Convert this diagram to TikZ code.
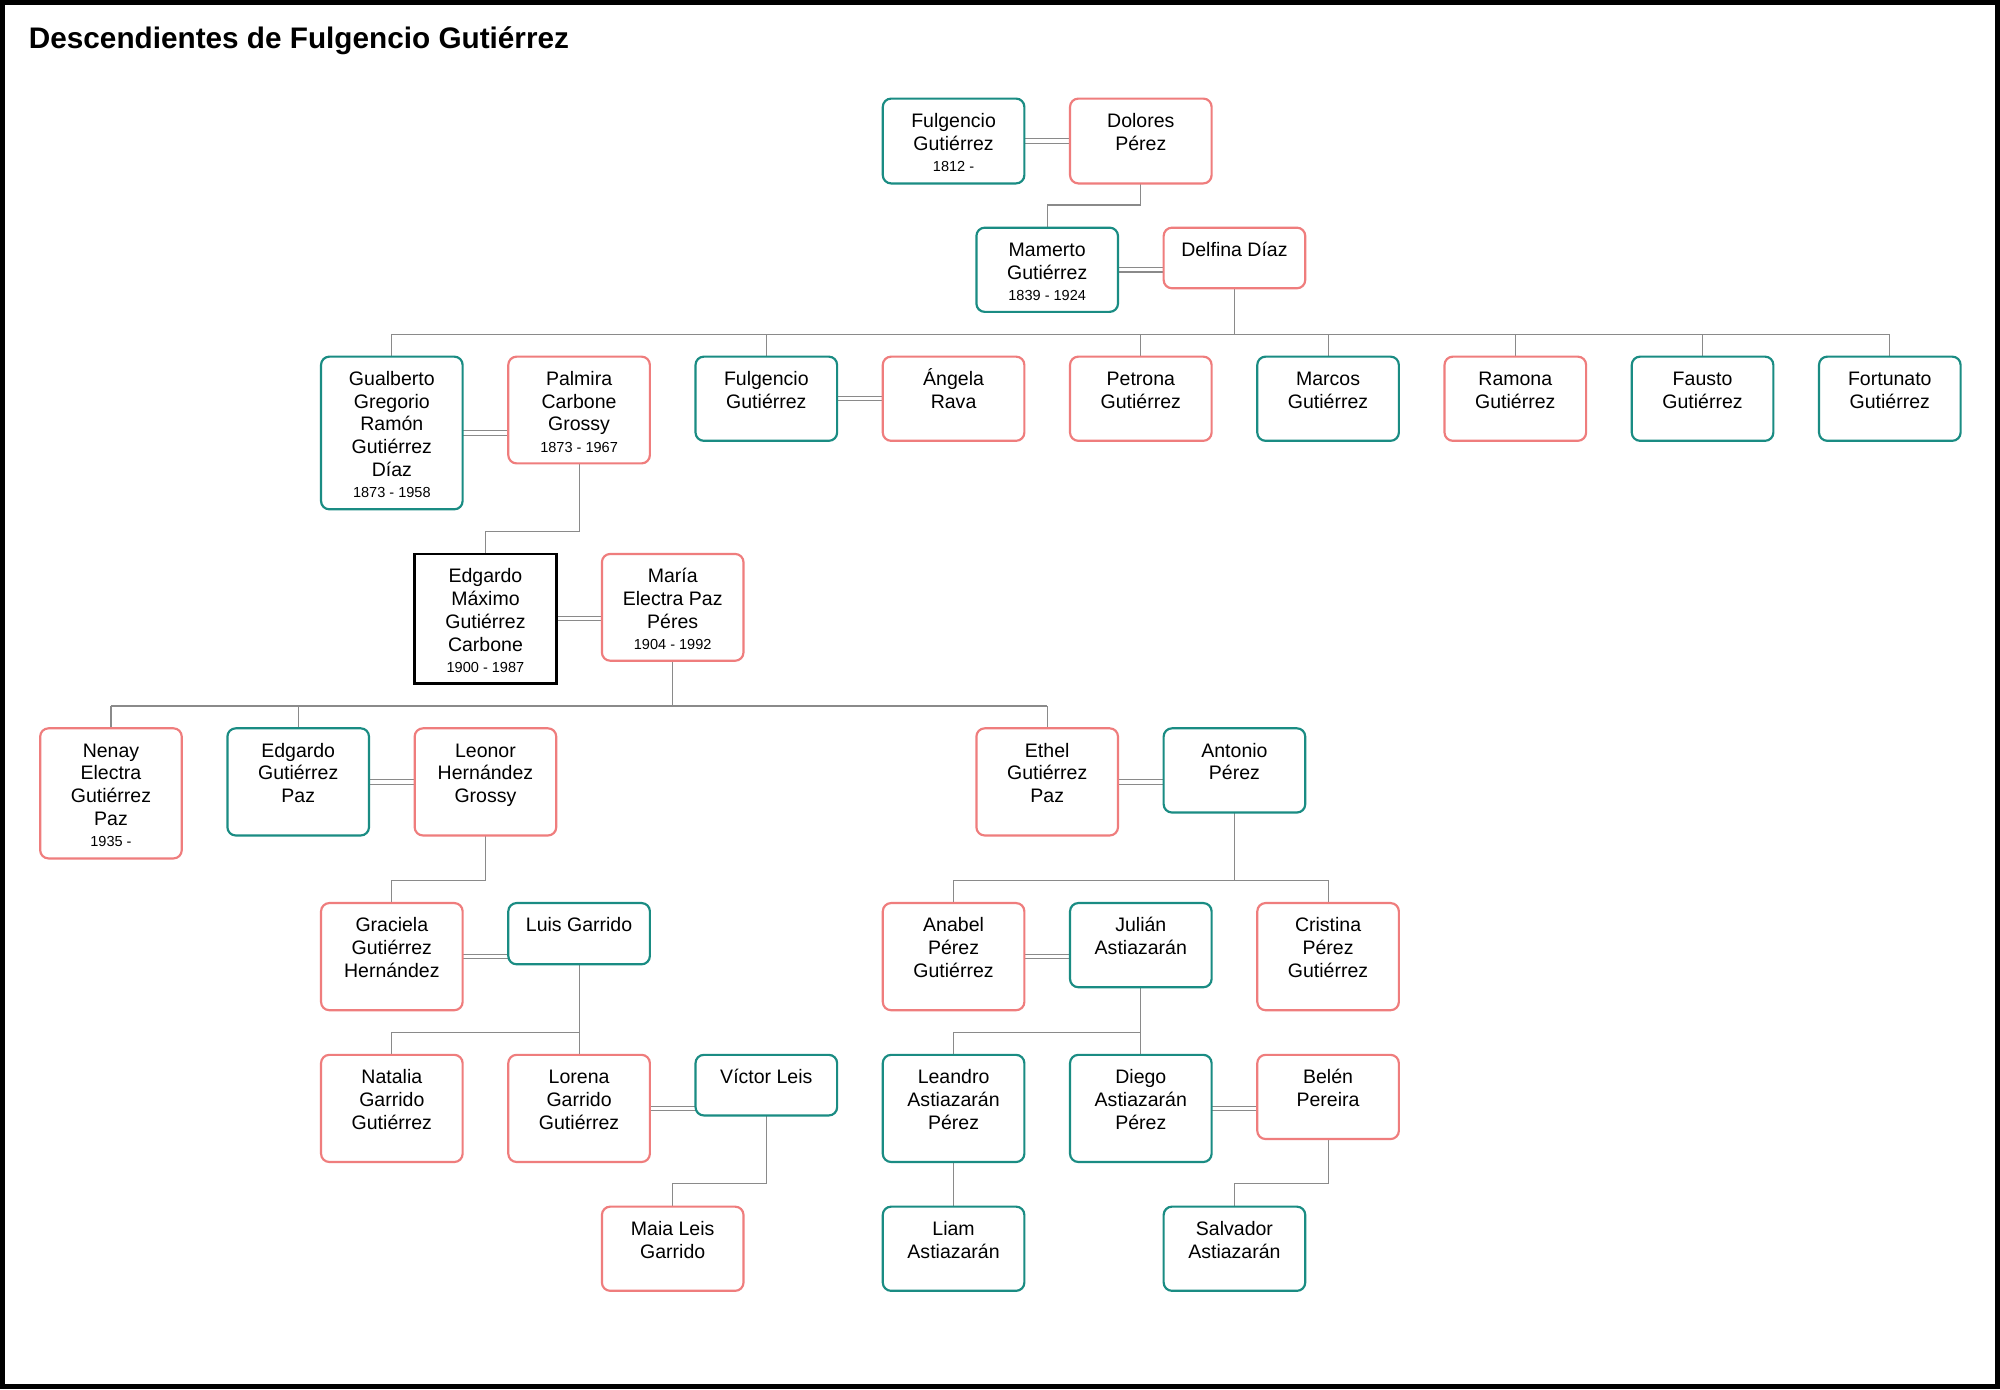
\documentclass[tikz,border=0pt]{standalone}
\usepackage{fontspec}
\setmainfont{Liberation Sans}
\usetikzlibrary{backgrounds}
\definecolor{mteal}{HTML}{1A8C83}
\definecolor{fsalmon}{HTML}{EF7D7D}
\definecolor{conngray}{HTML}{8A8A8A}
\newcommand\dt[1]{{\fontsize{11.4}{17.85}\selectfont #1}}
\newcommand\pp[6]{\node[#1] (#2) at (#3,#4+#5/2) {\parbox[c][#5pt][t]{111pt}{\centering\rule{0pt}{22.6pt}#6}};}
\tikzset{
  box/.style={draw, line width=1.7pt, rounded corners=6.5pt, fill=white, inner sep=0pt, outer sep=0pt,
    font=\fontsize{15.3}{17.85}\selectfont},
  male/.style={box, draw=mteal},
  female/.style={box, draw=fsalmon},
  plainbox/.style={box, draw=black, line width=2.1pt, sharp corners},
  conn/.style={draw=conngray, line width=0.85pt},
  wed/.style={draw=conngray, line width=0.85pt, double=white, double distance=2.6pt},
}
\begin{document}
\begin{tikzpicture}[x=1pt,y=-1pt]
\useasboundingbox (0,0) rectangle (1568,1089);
\begin{pgfonlayer}{background}
\fill[black] (0,0) rectangle (1568,1089);
\fill[white] (3.9,3.9) rectangle (1564.1,1085.1);
\end{pgfonlayer}
\node[anchor=base west, inner sep=0pt, font=\bfseries\fontsize{23.3}{26}\selectfont] (title) at (22.5,38) {Descendientes de Fulgencio Gutiérrez};
% row 1
\pp{male}{fulg}{747.6}{77.3}{66.5}{Fulgencio\\Gutiérrez\\[-1.15pt]\dt{1812 -}}
\pp{female}{dolores}{894.4}{77.3}{66.5}{Dolores\\Pérez}
% row 2
\pp{male}{mamerto}{821}{178.5}{66}{Mamerto\\Gutiérrez\\[-1.15pt]\dt{1839 - 1924}}
\pp{female}{delfina}{967.8}{178.5}{47.5}{Delfina Díaz}
% row 3
\pp{male}{gualberto}{307.2}{279.6}{119.7}{Gualberto\\Gregorio\\Ramón\\Gutiérrez\\Díaz\\[-1.15pt]\dt{1873 - 1958}}
\pp{female}{palmira}{454}{279.6}{83.7}{Palmira\\Carbone\\Grossy\\[-1.15pt]\dt{1873 - 1967}}
\pp{male}{fulgjr}{600.8}{279.6}{66}{Fulgencio\\Gutiérrez}
\pp{female}{angela}{747.6}{279.6}{66}{Ángela\\Rava}
\pp{female}{petrona}{894.4}{279.6}{66}{Petrona\\Gutiérrez}
\pp{male}{marcos}{1041.2}{279.6}{66}{Marcos\\Gutiérrez}
\pp{female}{ramona}{1188}{279.6}{66}{Ramona\\Gutiérrez}
\pp{male}{fausto}{1334.8}{279.6}{66}{Fausto\\Gutiérrez}
\pp{male}{fortunato}{1481.6}{279.6}{66}{Fortunato\\Gutiérrez}
% row 4
\pp{plainbox}{edgardo}{380.6}{434.3}{101.4}{Edgardo\\Máximo\\Gutiérrez\\Carbone\\[-1.15pt]\dt{1900 - 1987}}
\pp{female}{maria}{527.4}{434.3}{83.7}{María\\Electra Paz\\Péres\\[-1.15pt]\dt{1904 - 1992}}
% row 5
\pp{female}{nenay}{87}{571}{102}{Nenay\\Electra\\Gutiérrez\\Paz\\[-1.15pt]\dt{1935 -}}
\pp{male}{edgardojr}{233.8}{571}{84}{Edgardo\\Gutiérrez\\Paz}
\pp{female}{leonor}{380.6}{571}{84}{Leonor\\Hernández\\Grossy}
\pp{female}{ethel}{821}{571}{84}{Ethel\\Gutiérrez\\Paz}
\pp{male}{antonio}{967.8}{571}{66}{Antonio\\Pérez}
% row 6
\pp{female}{graciela}{307.2}{708}{84}{Graciela\\Gutiérrez\\Hernández}
\pp{male}{luis}{454}{708}{48}{Luis Garrido}
\pp{female}{anabel}{747.6}{708}{84}{Anabel\\Pérez\\Gutiérrez}
\pp{male}{julian}{894.4}{708}{66}{Julián\\Astiazarán}
\pp{female}{cristina}{1041.2}{708}{84}{Cristina\\Pérez\\Gutiérrez}
% row 7
\pp{female}{natalia}{307.2}{827}{84}{Natalia\\Garrido\\Gutiérrez}
\pp{female}{lorena}{454}{827}{84}{Lorena\\Garrido\\Gutiérrez}
\pp{male}{victor}{600.8}{827}{47.5}{Víctor Leis}
\pp{male}{leandro}{747.6}{827}{84}{Leandro\\Astiazarán\\Pérez}
\pp{male}{diego}{894.4}{827}{84}{Diego\\Astiazarán\\Pérez}
\pp{female}{belen}{1041.2}{827}{66}{Belén\\Pereira}
% row 8
\pp{female}{maia}{527.4}{946}{66}{Maia Leis\\Garrido}
\pp{male}{liam}{747.6}{946}{66}{Liam\\Astiazarán}
\pp{male}{salvador}{967.8}{946}{66}{Salvador\\Astiazarán}
% bus levels
\coordinate (b1) at (0,160.7);
\coordinate (b2) at (0,262);
\coordinate (b3) at (0,416.8);
\coordinate (b4) at (0,553.5);
\coordinate (b5) at (0,690.2);
\coordinate (b7) at (0,809.3);
\coordinate (b9) at (0,928);
\begin{pgfonlayer}{background}
% marriages
\draw[wed] (fulg.east) -- (fulg.east -| dolores.west);
\draw[wed] (mamerto.east) -- (mamerto.east -| delfina.west);
\draw[wed] (gualberto.east) -- (gualberto.east -| palmira.west);
\draw[wed] (fulgjr.east) -- (fulgjr.east -| angela.west);
\draw[wed] (edgardo.east) -- (edgardo.east -| maria.west);
\draw[wed] (edgardojr.east) -- (edgardojr.east -| leonor.west);
\draw[wed] (ethel.east) -- (ethel.east -| antonio.west);
\draw[wed] (graciela.east) -- (graciela.east -| luis.west);
\draw[wed] (anabel.east) -- (anabel.east -| julian.west);
\draw[wed] (lorena.east) -- (lorena.east -| victor.west);
\draw[wed] (diego.east) -- (diego.east -| belen.west);
% descent
\draw[conn] (dolores.south) |- (mamerto.north |- b1) -- (mamerto.north);
\draw[conn] (delfina.south) -- (delfina.south |- b2);
\draw[conn] (gualberto.north |- b2) -- (fortunato.north |- b2);
\foreach \c in {gualberto,fulgjr,petrona,marcos,ramona,fausto,fortunato}
  \draw[conn] (\c.north |- b2) -- (\c.north);
\draw[conn] (palmira.south) |- (edgardo.north |- b3) -- (edgardo.north);
\draw[conn] (maria.south) -- (maria.south |- b4);
\draw[conn] (nenay.north |- b4) -- (ethel.north |- b4);
\foreach \c in {nenay,edgardojr,ethel}
  \draw[conn] (\c.north |- b4) -- (\c.north);
\draw[conn] (leonor.south) |- (graciela.north |- b5) -- (graciela.north);
\draw[conn] (antonio.south) -- (antonio.south |- b5);
\draw[conn] (anabel.north |- b5) -- (cristina.north |- b5);
\foreach \c in {anabel,cristina}
  \draw[conn] (\c.north |- b5) -- (\c.north);
\draw[conn] (luis.south) -- (luis.south |- b7);
\draw[conn] (natalia.north |- b7) -- (lorena.north |- b7);
\foreach \c in {natalia,lorena}
  \draw[conn] (\c.north |- b7) -- (\c.north);
\draw[conn] (julian.south) -- (julian.south |- b7);
\draw[conn] (leandro.north |- b7) -- (diego.north |- b7);
\foreach \c in {leandro,diego}
  \draw[conn] (\c.north |- b7) -- (\c.north);
\draw[conn] (victor.south) |- (maia.north |- b9) -- (maia.north);
\draw[conn] (leandro.south) -- (liam.north);
\draw[conn] (belen.south) |- (salvador.north |- b9) -- (salvador.north);
\end{pgfonlayer}
\end{tikzpicture}
\end{document}
